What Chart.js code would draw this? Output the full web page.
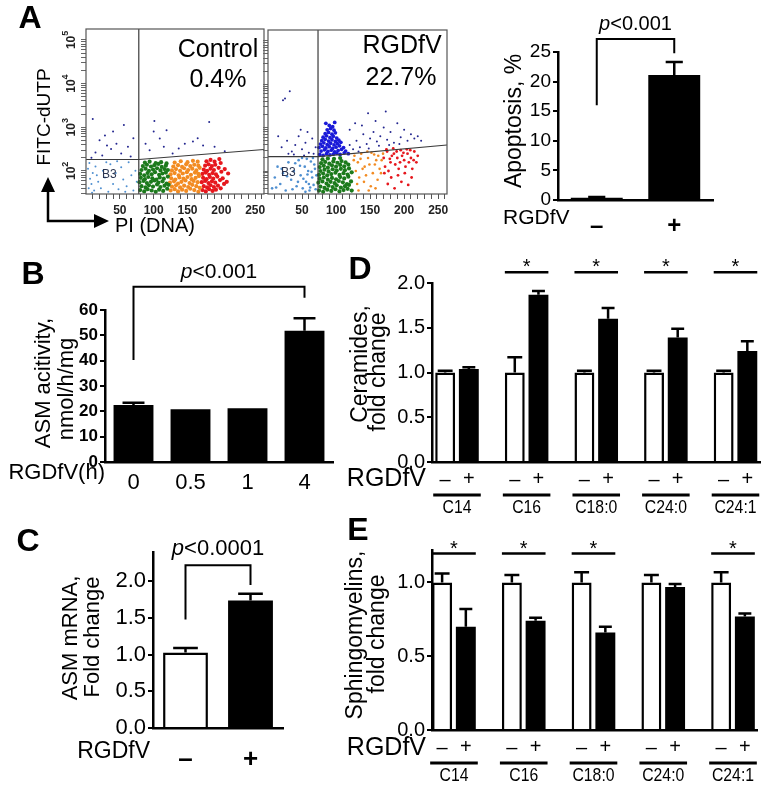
<!DOCTYPE html>
<html>
<head>
<meta charset="utf-8">
<script src="https://cdn.jsdelivr.net/npm/chart.js@4.4.1/dist/chart.umd.min.js"></script>
<style>
body { margin: 0; background: #fff; width: 764px; height: 791px; position: relative; overflow: hidden; }
canvas { position: absolute; }
</style>
</head>
<body>
<canvas id="flow1"></canvas>
<canvas id="flow2"></canvas>
<canvas id="apop"></canvas>
<canvas id="asm"></canvas>
<canvas id="mrna"></canvas>
<canvas id="cer"></canvas>
<canvas id="sm"></canvas>
<script>
// ---- panel A, flow plots: x = PI (DNA), y = log10 of FITC-dUTP ----
var ctrlGreen = [[80,1.56],[86,1.53],[91,1.58],[97,1.55],[103,1.52],[108,1.57],[114,1.54],[120,1.59],
    [82,1.65],[88,1.62],[93,1.67],[99,1.64],[105,1.69],[110,1.63],[116,1.66],[122,1.68],
    [79,1.74],[85,1.77],[90,1.72],[96,1.75],[101,1.78],[107,1.73],[113,1.76],[119,1.71],
    [81,1.84],[87,1.81],[92,1.86],[98,1.83],[104,1.80],[109,1.85],[115,1.82],[121,1.87],
    [80,1.93],[86,1.90],[91,1.95],[97,1.92],[102,1.97],[108,1.91],[113,1.94],[118,1.96],
    [82,2.02],[88,2.05],[93,2.00],[99,2.03],[105,2.06],[110,2.01],[116,2.04],[121,2.02],
    [84,2.11],[90,2.14],[96,2.10],[101,2.13],[107,2.16],[112,2.09],[118,2.12],
    [87,2.19],[94,2.21],[103,2.18],[111,2.20],[119,2.17]];
var ctrlOrange = [[125,1.55],[131,1.58],[136,1.53],[142,1.57],[148,1.54],[154,1.59],[160,1.56],[166,1.52],
    [127,1.64],[133,1.67],[139,1.62],[145,1.66],[151,1.63],[157,1.68],[163,1.65],[168,1.61],
    [124,1.73],[130,1.76],[136,1.71],[141,1.75],[147,1.78],[153,1.72],[159,1.77],[165,1.74],
    [126,1.83],[132,1.80],[138,1.85],[144,1.82],[150,1.86],[156,1.81],[162,1.84],[167,1.88],
    [125,1.92],[131,1.95],[137,1.90],[143,1.94],[149,1.97],[155,1.91],[161,1.96],[166,1.93],
    [127,2.01],[133,2.04],[139,2.00],[145,2.06],[151,2.02],[157,2.05],[163,2.01],[168,2.07],
    [129,2.10],[136,2.13],[142,2.09],[148,2.15],[154,2.11],[160,2.14],[166,2.12],
    [131,2.19],[140,2.22],[150,2.20],[158,2.23],[165,2.21]];
var ctrlRed = [[172,1.56],[177,1.53],[182,1.58],[187,1.54],[192,1.57],[199,1.60],
    [174,1.65],[179,1.62],[184,1.67],[189,1.63],[195,1.66],[204,1.70],
    [171,1.74],[176,1.77],[181,1.72],[186,1.76],[191,1.73],[198,1.79],[208,1.75],
    [173,1.84],[178,1.81],[183,1.86],[188,1.82],[194,1.87],[202,1.83],
    [172,1.93],[177,1.96],[182,1.91],[187,1.95],[192,1.92],[200,1.98],[210,1.94],
    [174,2.03],[179,2.00],[184,2.05],[189,2.02],[196,2.07],[205,2.04],
    [176,2.12],[181,2.15],[186,2.11],[191,2.14],[199,2.18],
    [178,2.22],[184,2.25],[190,2.21],[197,2.27]];
var ctrlLightBlue = [[4,1.6],[6,1.82],[3,2.05],[8,1.7],[10,1.95],[5,2.18],[12,1.55],[14,2.1],[18,1.75],[22,1.6],
    [25,2.0],[28,1.85],[33,1.52],[36,2.15],[40,1.7],[44,1.95],[48,1.58],[52,2.08],[55,1.8],[60,1.65],
    [63,2.2],[67,1.9],[70,1.55],[73,2.0],[75,1.75],[16,1.9],[30,2.2],[46,2.22],[58,1.52],[9,1.5]];
var ctrlDarkBlue = [[10,3.19],[56,3.05],[28,2.81],[31,2.58],[20,2.7],[14,2.42],[24,2.35],[37,2.5],[45,2.62],[52,2.4],
    [62,2.55],[70,2.75],[8,2.3],[40,2.9],[66,2.33],
    [101,3.14],[182,3.12],[100,2.9],[119,2.93],[158,2.67],[173,2.58],[137,2.51],[94,2.47],[109,2.74],[128,2.40],
    [146,2.62],[165,2.75],[88,2.62],[190,2.55],[205,2.45],[115,2.55]];
var ctrlGate = [[0,2.26],[78,2.26],[263,2.49]];
var ctrlGateX = 78;

var rgdBlueCore = [[76,2.38],[81,2.36],[86,2.40],[91,2.37],[96,2.39],[101,2.41],[106,2.38],[112,2.42],[118,2.40],
    [78,2.46],[83,2.49],[88,2.45],[93,2.48],[98,2.44],[103,2.47],[108,2.50],[114,2.46],
    [75,2.54],[80,2.57],[85,2.53],[90,2.56],[95,2.52],[100,2.55],[105,2.58],[111,2.54],
    [77,2.62],[82,2.65],[87,2.61],[92,2.64],[97,2.60],[102,2.63],[107,2.66],
    [79,2.70],[84,2.73],[89,2.69],[94,2.72],[99,2.68],[104,2.71],
    [81,2.78],[86,2.81],[91,2.77],[96,2.80],[101,2.76],
    [84,2.86],[89,2.89],[94,2.85],[99,2.88],
    [87,2.95],[92,2.98],[97,2.94],[90,3.05],[95,3.02],[85,3.1],[98,3.12]];
var rgdBlueSparse = [[22,3.63],[32,3.84],[25,3.67],[20,2.55],[28,2.7],[35,2.45],[40,2.6],[45,2.8],[50,2.5],[55,2.65],
    [60,2.42],[65,2.75],[70,2.55],[48,2.95],[38,2.38],[58,2.9],[30,2.4],[67,2.4],[15,2.8],[53,2.36],
    [147,3.33],[173,3.37],[125,2.5],[130,2.7],[135,2.55],[140,2.85],[145,2.62],[150,2.75],[155,2.9],[160,2.68],
    [165,2.8],[170,3.0],[175,2.72],[180,2.9],[185,2.65],[190,3.1],[195,2.78],[200,2.95],[205,2.7],[210,2.85],
    [215,2.75],[120,2.95],[128,3.1],[138,3.05],[158,3.15],[120,2.6],[133,2.45],[148,2.52],[163,2.58],[178,2.6],
    [193,2.62],[220,2.8],[225,2.7]];
var rgdGreen = [[75,1.55],[81,1.52],[87,1.57],[93,1.54],[99,1.58],[105,1.53],[111,1.56],[117,1.59],[123,1.55],
    [77,1.64],[83,1.61],[89,1.66],[95,1.63],[101,1.67],[107,1.62],[113,1.65],[119,1.68],
    [74,1.73],[80,1.76],[86,1.71],[92,1.75],[98,1.72],[104,1.77],[110,1.74],[116,1.70],[122,1.76],
    [76,1.82],[82,1.85],[88,1.80],[94,1.84],[100,1.81],[106,1.86],[112,1.83],[118,1.87],
    [75,1.91],[81,1.94],[87,1.90],[93,1.93],[99,1.96],[105,1.91],[111,1.95],[117,1.92],[123,1.97],
    [77,2.00],[83,2.03],[89,1.99],[95,2.04],[101,2.01],[107,2.05],[113,2.02],[119,2.06],
    [76,2.09],[82,2.12],[88,2.08],[94,2.13],[100,2.10],[106,2.14],[112,2.11],[118,2.15],
    [78,2.18],[84,2.21],[90,2.17],[96,2.22],[102,2.19],[108,2.23],[114,2.20],
    [80,2.27],[88,2.29],[97,2.28],[106,2.30]];
var rgdLightBlue = [[6,1.6],[10,1.85],[14,2.1],[18,1.7],[22,1.95],[26,1.55],[30,2.2],[34,1.8],[38,2.0],[42,1.65],
    [45,2.25],[48,1.9],[51,1.6],[54,2.1],[56,1.75],[59,2.0],[61,1.55],[63,2.22],[65,1.85],[67,1.68],
    [69,2.05],[71,1.9],[47,2.12],[52,1.82],[57,2.28],[60,1.7],[64,1.98],[68,2.15],[44,1.75],[40,2.18],
    [36,1.58],[28,1.88],[20,2.05],[12,1.62],[62,1.62],[66,2.3],[50,2.3],[55,1.52],[70,1.58],[58,1.92]];
var rgdOrange = [[127,2.35],[132,2.2],[137,2.4],[142,2.1],[147,2.3],[152,2.42],[157,2.15],[162,2.35],[167,2.25],[129,2.0],
    [134,1.85],[139,2.05],[144,1.9],[149,2.15],[154,1.95],[159,2.25],[164,2.05],[169,2.4],[131,1.7],[141,1.75],
    [151,1.65],[161,1.8],[126,2.25],[136,2.28],[146,2.45],[156,2.38],[166,1.95],[133,1.55],[148,1.55],[158,1.6]];
var rgdRed = [[170,2.3],[175,2.45],[180,2.2],[185,2.4],[190,2.3],[195,2.48],[200,2.25],[205,2.4],[210,2.3],[215,2.45],
    [220,2.35],[172,2.1],[177,2.0],[182,2.35],[187,2.15],[192,2.05],[197,2.35],[202,2.1],[207,2.2],[212,2.05],
    [218,2.2],[174,2.5],[184,2.52],[194,2.2],[204,2.5],[214,2.25],[171,1.95],[181,1.85],[191,1.9],[201,1.95],
    [211,1.85],[179,2.28],[189,2.45],[199,2.42],[209,2.48],[176,1.7],[196,1.75],[186,1.6],[206,1.68]];
var rgdGate = [[0,2.33],[73.5,2.33],[263,2.60]];
var rgdGateX = 73.5;

var flowXTicks = [10,20,30,40,50,60,70,80,90,100,110,120,130,140,150,160,170,180,190,200,210,220,230,240,250,260];
var flowDecades = [2, 3, 4, 5];

// ---- apoptosis bars ----
var apopLabels = ['\u2013', '+'];
var apopValues = [0.4, 21.1];
var apopErr = [0.5, 23.3];

// ---- B: ASM activity ----
var asmLabels = ['0', '0.5', '1', '4'];
var asmValues = [22.5, 20.8, 21.2, 51.8];
var asmErr = [23.4, null, null, 56.7];

// ---- C: ASM mRNA ----
var mrnaLabels = ['\u2013', '+'];
var mrnaValues = [1.03, 1.74];
var mrnaErr = [1.09, 1.83];

// ---- D and E: lipid species ----
var lipidGroups = ['C14', 'C16', 'C18:0', 'C24:0', 'C24:1'];
var groupPos = [1, 2, 3, 4, 5];
var cerCtrl = [1.0, 1.0, 1.0, 1.0, 1.0];
var cerCtrlErr = [1.02, 1.17, 1.02, 1.02, 1.02];
var cerRgd = [1.04, 1.87, 1.60, 1.39, 1.24];
var cerRgdErr = [1.06, 1.91, 1.72, 1.49, 1.35];
var cerSig = [false, true, true, true, true];
var smCtrl = [1.0, 1.0, 1.0, 1.0, 1.0];
var smCtrlErr = [1.06, 1.05, 1.07, 1.05, 1.07];
var smRgd = [0.70, 0.74, 0.66, 0.97, 0.77];
var smRgdErr = [0.82, 0.76, 0.70, 0.99, 0.79];
var smSig = [true, true, true, false, true];

var FONT = 'Arial, "Liberation Sans", Helvetica, sans-serif';
Chart.defaults.font.family = FONT;
Chart.defaults.color = '#000';
Chart.defaults.animation = false;

function place(id, box)
{
    var c = document.getElementById(id);
    c.width = box[2];
    c.height = box[3];
    c.style.left = box[0] + 'px';
    c.style.top = box[1] + 'px';
    c.style.width = box[2] + 'px';
    c.style.height = box[3] + 'px';
    return c;
}

function padFor(box, area, yw, xh)
{
    return {
        left: area[0] - box[0] - yw,
        top: area[1] - box[1],
        right: box[0] + box[2] - area[2],
        bottom: box[1] + box[3] - area[3] - xh
    };
}

function text(ctx, s, x, y, font, align, rot, sx)
{
    ctx.save();
    ctx.font = font;
    ctx.fillStyle = '#000';
    ctx.textAlign = align || 'center';
    ctx.textBaseline = 'middle';
    ctx.translate(x, y);
    if (rot) ctx.rotate(rot);
    if (sx) ctx.scale(sx, 1);
    ctx.fillText(s, 0, 0);
    ctx.restore();
}

function pText(ctx, x, y, size, rest)
{
    ctx.save();
    ctx.font = 'italic ' + size + 'px ' + FONT;
    var w1 = ctx.measureText('p').width;
    ctx.font = size + 'px ' + FONT;
    var w2 = ctx.measureText(rest).width;
    var x0 = x - (w1 + w2) / 2;
    ctx.textBaseline = 'middle';
    ctx.textAlign = 'left';
    ctx.fillStyle = '#000';
    ctx.font = 'italic ' + size + 'px ' + FONT;
    ctx.fillText('p', x0, y);
    ctx.font = size + 'px ' + FONT;
    ctx.fillText(rest, x0 + w1, y);
    ctx.restore();
}

// texts placed in page coordinates: [text, x, y, size, bold, rotated, align]
function labelsPlugin(box, items)
{
    return {
        id: 'labels',
        afterDraw: function (chart) {
            var ctx = chart.ctx;
            items.forEach(function (it) {
                var font = (it[4] ? 'bold ' : '') + it[3] + 'px ' + FONT;
                text(ctx, it[0], it[1] - box[0], it[2] - box[1], font, it[6] || 'center', it[5] ? -Math.PI / 2 : 0);
            });
        }
    };
}

function errorPlugin(specs)
{
    return {
        id: 'errs',
        afterDatasetsDraw: function (chart) {
            var ctx = chart.ctx, y = chart.scales.y;
            specs.forEach(function (sp) {
                chart.getDatasetMeta(sp.ds).data.forEach(function (el, i) {
                    var top = sp.tops[i];
                    if (top == null) return;
                    var yt = y.getPixelForValue(top), half = el.width * sp.cap / 2;
                    ctx.save();
                    ctx.strokeStyle = '#000';
                    ctx.lineWidth = 2.5;
                    ctx.beginPath();
                    ctx.moveTo(el.x, el.y);
                    ctx.lineTo(el.x, yt);
                    ctx.moveTo(el.x - half, yt);
                    ctx.lineTo(el.x + half, yt);
                    ctx.stroke();
                    ctx.restore();
                });
            });
        }
    };
}

function bracketPlugin(b)
{
    return {
        id: 'bracket',
        afterDraw: function (chart) {
            var ctx = chart.ctx, y = chart.scales.y, m = chart.getDatasetMeta(0).data;
            var xa = m[b.from].x, xb = m[b.to].x;
            ctx.save();
            ctx.strokeStyle = '#000';
            ctx.lineWidth = 2;
            ctx.beginPath();
            ctx.moveTo(xa, y.getPixelForValue(b.legA));
            ctx.lineTo(xa, y.getPixelForValue(b.top));
            ctx.lineTo(xb, y.getPixelForValue(b.top));
            ctx.lineTo(xb, y.getPixelForValue(b.legB));
            ctx.stroke();
            ctx.restore();
            pText(ctx, (xa + xb) / 2, y.getPixelForValue(b.textAt), b.size, b.text);
        }
    };
}

function yAxis(min, max, step, yw, font, keepMax, fmt)
{
    return {
        min: min, max: max,
        ticks: { stepSize: step, font: font, padding: 2, callback: fmt || function (v) { return v; } },
        grid: { drawOnChartArea: false, tickLength: 5, lineWidth: 2, color: '#000' },
        border: { width: 2.5, color: '#000' },
        afterBuildTicks: function (s) {
            s.ticks = s.ticks.filter(function (t) { return t.value <= keepMax + 1e-9; });
        },
        afterFit: function (s) { s.width = yw; s.paddingTop = 0; s.paddingBottom = 0; }
    };
}

// ---------- flow plots ----------
function flowYTicks(s)
{
    var t = [];
    for (var n = 1; n <= 5; n++)
        for (var k = 1; k <= 9; k++)
        {
            var v = n + Math.log10(k);
            if (v >= s.min && v <= s.max) t.push({ value: v });
        }
    s.ticks = t;
}

function flowChart(id, box, area, clusters, gate, gateX, extra)
{
    var yw = 6, xh = 26;
    var datasets = [
        { type: 'line', data: gate.map(function (p) { return { x: p[0], y: p[1] }; }),
          borderColor: '#3a3a3a', borderWidth: 1.2, pointRadius: 0, fill: false },
        { type: 'line', data: [{ x: gateX, y: 1.47 }, { x: gateX, y: 5.25 }],
          borderColor: '#3a3a3a', borderWidth: 1.2, pointRadius: 0, fill: false }
    ];
    clusters.forEach(function (cl) {
        datasets.push({ type: 'scatter', data: cl.pts.map(function (p) { return { x: p[0], y: p[1] }; }),
            pointRadius: cl.r, backgroundColor: cl.color, borderWidth: 0 });
    });
    return new Chart(place(id, box), {
        type: 'scatter',
        data: { datasets: datasets },
        options: {
            responsive: false, events: [],
            layout: { padding: padFor(box, area, yw, xh) },
            plugins: { legend: { display: false }, tooltip: { enabled: false } },
            scales: {
                x: {
                    type: 'linear', min: 0, max: 263,
                    afterBuildTicks: function (s) { s.ticks = flowXTicks.map(function (v) { return { value: v }; }); },
                    ticks: { autoSkip: false, maxRotation: 0, padding: 4, color: '#222',
                        font: { size: 12, weight: 'bold' },
                        callback: function (v) { return v % 50 === 0 ? String(v) : ''; } },
                    grid: { drawOnChartArea: false, tickLength: 5, color: '#555' },
                    border: { display: false },
                    afterFit: function (s) { s.height = xh; s.paddingLeft = 0; s.paddingRight = 0; }
                },
                y: {
                    type: 'linear', min: 1.47, max: 5.25,
                    afterBuildTicks: flowYTicks,
                    ticks: { display: false },
                    grid: { drawOnChartArea: false, tickLength: 5, color: '#666' },
                    border: { display: false },
                    afterFit: function (s) { s.width = yw; s.paddingTop = 0; s.paddingBottom = 0; }
                }
            }
        },
        plugins: [{
            id: 'frame',
            afterDraw: function (chart) {
                var ctx = chart.ctx, a = chart.chartArea;
                ctx.save();
                ctx.strokeStyle = '#555';
                ctx.lineWidth = 1.2;
                ctx.strokeRect(a.left, a.top, a.right - a.left, a.bottom - a.top);
                ctx.restore();
                extra(chart, ctx);
            }
        }]
    });
}

var cGreen = '#1c7a1c', cOrange = '#f28b22', cRed = '#e6171d', cNavy = '#23268f', cBlue = '#1a1ad8', cLight = '#4f8fd0';

var box1 = [0, 0, 268, 240];
flowChart('flow1', box1, [86, 29, 264, 194], [
    { pts: ctrlGreen, r: 2.1, color: cGreen },
    { pts: ctrlOrange, r: 2.1, color: cOrange },
    { pts: ctrlRed, r: 2.1, color: cRed },
    { pts: ctrlLightBlue, r: 1.0, color: cLight },
    { pts: ctrlDarkBlue, r: 1.0, color: cNavy }
], ctrlGate, ctrlGateX, function (chart, ctx) {
    var y = chart.scales.y, a = chart.chartArea;
    flowDecades.forEach(function (n) {
        var py = y.getPixelForValue(n);
        ctx.save();
        ctx.translate(a.left - 14, py);
        ctx.rotate(-Math.PI / 2);
        ctx.fillStyle = '#222';
        ctx.textBaseline = 'middle';
        ctx.textAlign = 'left';
        ctx.font = 'bold 12px ' + FONT;
        var w1 = ctx.measureText('10').width;
        ctx.font = 'bold 9px ' + FONT;
        var w2 = ctx.measureText(String(n)).width;
        var x0 = -(w1 + w2) / 2;
        ctx.font = 'bold 12px ' + FONT;
        ctx.fillText('10', x0, 0);
        ctx.font = 'bold 9px ' + FONT;
        ctx.fillText(String(n), x0 + w1, -6);
        ctx.restore();
    });
    text(ctx, 'A', 30, 19, 'bold 32px ' + FONT);
    text(ctx, 'FITC-dUTP', 45, 117, '19px ' + FONT, 'center', -Math.PI / 2);
    text(ctx, 'PI (DNA)', 115, 226, '20px ' + FONT, 'left');
    text(ctx, 'Control', 218, 50, '25px ' + FONT);
    text(ctx, '0.4%', 218, 80, '25px ' + FONT);
    ctx.save();
    ctx.fillStyle = '#2b3550';
    ctx.font = '12px ' + FONT;
    ctx.textBaseline = 'middle';
    ctx.fillText('B3', 102, 175);
    ctx.strokeStyle = '#000';
    ctx.fillStyle = '#000';
    ctx.lineWidth = 2.5;
    ctx.beginPath();
    ctx.moveTo(48, 190); ctx.lineTo(48, 221); ctx.lineTo(96, 221);
    ctx.stroke();
    ctx.beginPath();
    ctx.moveTo(48, 177); ctx.lineTo(41, 192); ctx.lineTo(55, 192); ctx.closePath();
    ctx.moveTo(109, 221); ctx.lineTo(94, 214); ctx.lineTo(94, 228); ctx.closePath();
    ctx.fill();
    ctx.restore();
});

var box2 = [262, 0, 190, 240];
flowChart('flow2', box2, [268, 30, 447, 194], [
    { pts: rgdGreen, r: 2.1, color: cGreen },
    { pts: rgdBlueCore, r: 1.9, color: cBlue },
    { pts: rgdLightBlue, r: 1.3, color: cLight },
    { pts: rgdOrange, r: 1.3, color: cOrange },
    { pts: rgdRed, r: 1.4, color: cRed },
    { pts: rgdBlueSparse, r: 1.0, color: cNavy }
], rgdGate, rgdGateX, function (chart, ctx) {
    text(ctx, 'RGDfV', 402 - box2[0], 46, '25px ' + FONT);
    text(ctx, '22.7%', 401 - box2[0], 78, '25px ' + FONT);
    ctx.save();
    ctx.fillStyle = '#2b3550';
    ctx.font = '12px ' + FONT;
    ctx.textBaseline = 'middle';
    ctx.fillText('B3', 281 - box2[0], 173);
    ctx.restore();
});

// ---------- apoptosis % ----------
var boxA = [500, 0, 264, 240];
new Chart(place('apop', boxA), {
    type: 'bar',
    data: { labels: apopLabels, datasets: [{ data: apopValues, backgroundColor: '#000', borderWidth: 0,
        barPercentage: 0.67, categoryPercentage: 1 }] },
    options: {
        responsive: false, events: [],
        layout: { padding: padFor(boxA, [558, 52, 713, 200], 32, 40) },
        plugins: { legend: { display: false }, tooltip: { enabled: false } },
        scales: {
            x: { ticks: { font: { size: 24, weight: 'bold' }, padding: 4 }, grid: { display: false },
                 border: { width: 2.5, color: '#000' },
                 afterFit: function (s) { s.height = 40; s.paddingLeft = 0; s.paddingRight = 0; } },
            y: yAxis(0, 25, 5, 32, { size: 19 }, 25)
        }
    },
    plugins: [errorPlugin([{ ds: 0, tops: apopErr, cap: 0.33 }]),
        bracketPlugin({ from: 0, to: 1, legA: 16.0, top: 27.2, legB: 24.8, textAt: 29.6, size: 20, text: '<0.001' }),
        labelsPlugin(boxA, [['Apoptosis, %', 515, 121, 23, false, true], ['RGDfV', 503, 218, 21, false, false, 'left']])]
});

// ---------- B ----------
var boxB = [0, 240, 345, 250];
new Chart(place('asm', boxB), {
    type: 'bar',
    data: { labels: asmLabels, datasets: [{ data: asmValues, backgroundColor: '#000', borderWidth: 0,
        barPercentage: 0.7, categoryPercentage: 1 }] },
    options: {
        responsive: false, events: [],
        layout: { padding: padFor(boxB, [105, 310, 333, 462], 40, 28) },
        plugins: { legend: { display: false }, tooltip: { enabled: false } },
        scales: {
            x: { ticks: { font: { size: 22 }, padding: 0 }, grid: { display: false },
                 border: { width: 2.5, color: '#000' },
                 afterFit: function (s) { s.height = 28; s.paddingLeft = 0; s.paddingRight = 0; } },
            y: yAxis(0, 60, 10, 40, { size: 17, weight: 'bold' }, 60)
        }
    },
    plugins: [errorPlugin([{ ds: 0, tops: asmErr, cap: 0.55 }]),
        bracketPlugin({ from: 0, to: 3, legA: 40.3, top: 69.2, legB: 64.8, textAt: 74.9, size: 21, text: '<0.001' }),
        labelsPlugin(boxB, [['B', 33, 275, 32, true], ['ASM acitivity,', 44, 383, 22, false, true],
            ['nmol/h/mg', 67, 389, 22, false, true], ['RGDfV(h)', 105, 473, 22, false, false, 'right']])]
});

// ---------- C ----------
var boxC = [0, 480, 300, 311];
new Chart(place('mrna', boxC), {
    type: 'bar',
    data: { labels: mrnaLabels, datasets: [{ data: mrnaValues, backgroundColor: ['#fff', '#000'],
        borderColor: '#000', borderWidth: [2.5, 0], barPercentage: 0.69, categoryPercentage: 1 }] },
    options: {
        responsive: false, events: [],
        layout: { padding: padFor(boxC, [153, 552, 283, 728], 42, 40) },
        plugins: { legend: { display: false }, tooltip: { enabled: false } },
        scales: {
            x: { ticks: { font: { size: 26, weight: 'bold' }, padding: 8 }, grid: { display: false },
                 border: { width: 2.5, color: '#000' },
                 afterFit: function (s) { s.height = 40; s.paddingLeft = 0; s.paddingRight = 0; } },
            y: yAxis(0, 2.4, 0.5, 42, { size: 22 }, 2.0, function (v) { return v.toFixed(1); })
        }
    },
    plugins: [errorPlugin([{ ds: 0, tops: mrnaErr, cap: 0.55 }]),
        bracketPlugin({ from: 0, to: 1, legA: 1.48, top: 2.22, legB: 1.95, textAt: 2.44, size: 22, text: '<0.0001' }),
        labelsPlugin(boxC, [['C', 28, 542, 32, true], ['ASM mRNA,', 71, 638, 22, false, true],
            ['Fold change', 93, 637, 22, false, true], ['RGDfV', 150, 752, 23, false, false, 'right']])]
});

// ---------- D and E ----------
function lipidChart(id, box, area, ctrl, ctrlErr, rgd, rgdErr, sig, yMax, keepMax, xMin, xMax, sigAt, starAt, titles)
{
    var yw = 42;
    function pts(vals) { return groupPos.map(function (g, i) { return { x: g, y: vals[i] }; }); }
    return new Chart(place(id, box), {
        type: 'bar',
        data: { datasets: [
            { data: pts(ctrl), backgroundColor: '#fff', borderColor: '#000', borderWidth: 2.5,
              barPercentage: 0.84, categoryPercentage: 0.68 },
            { data: pts(rgd), backgroundColor: '#000', borderWidth: 0,
              barPercentage: 0.84, categoryPercentage: 0.68 }
        ] },
        options: {
            responsive: false, events: [],
            layout: { padding: padFor(box, area, yw, 2) },
            plugins: { legend: { display: false }, tooltip: { enabled: false } },
            scales: {
                x: { type: 'linear', min: xMin, max: xMax, offset: false,
                     afterBuildTicks: function (s) { s.ticks = groupPos.map(function (v) { return { value: v }; }); },
                     ticks: { display: false }, grid: { display: false, offset: false },
                     border: { width: 2.5, color: '#000' },
                     afterFit: function (s) { s.height = 2; s.paddingLeft = 0; s.paddingRight = 0; } },
                y: yAxis(0, yMax, 0.5, yw, { size: 20 }, keepMax, function (v) { return v.toFixed(1); })
            }
        },
        plugins: [errorPlugin([{ ds: 0, tops: ctrlErr, cap: 0.75 }, { ds: 1, tops: rgdErr, cap: 0.65 }]),
            {
                id: 'groups',
                afterDraw: function (chart) {
                    var ctx = chart.ctx, a = chart.chartArea, x = chart.scales.x, y = chart.scales.y;
                    var w = chart.getDatasetMeta(0).data, b = chart.getDatasetMeta(1).data;
                    ctx.save();
                    ctx.strokeStyle = '#000';
                    groupPos.forEach(function (g, j) {
                        var l = w[j].x - w[j].width / 2, r = b[j].x + b[j].width / 2;
                        text(ctx, '\u2013', w[j].x, a.bottom + 18, '20px ' + FONT);
                        text(ctx, '+', b[j].x, a.bottom + 17, '20px ' + FONT);
                        ctx.lineWidth = 3;
                        ctx.beginPath();
                        ctx.moveTo(l - 2, a.bottom + 33);
                        ctx.lineTo(r + 2, a.bottom + 33);
                        ctx.stroke();
                        text(ctx, lipidGroups[j], x.getPixelForValue(g), a.bottom + 46, '19px ' + FONT, 'center', 0, 0.83);
                        if (sig[j])
                        {
                            var ys = y.getPixelForValue(sigAt);
                            ctx.lineWidth = 2.5;
                            ctx.beginPath();
                            ctx.moveTo(l, ys);
                            ctx.lineTo(r, ys);
                            ctx.stroke();
                            ctx.save();
                            ctx.font = '20px ' + FONT;
                            ctx.textAlign = 'center';
                            ctx.textBaseline = 'alphabetic';
                            ctx.fillStyle = '#000';
                            ctx.fillText('*', x.getPixelForValue(g), y.getPixelForValue(starAt) + 11);
                            ctx.restore();
                        }
                    });
                    ctx.restore();
                }
            },
            labelsPlugin(box, titles)]
    });
}

var boxD = [330, 240, 434, 285];
lipidChart('cer', boxD, [432, 283, 760, 462], cerCtrl, cerCtrlErr, cerRgd, cerRgdErr, cerSig,
    2.0, 2.0, 0.641, 5.352, 2.12, 2.23,
    [['D', 360, 270, 32, true], ['Ceramides,', 361, 364, 23, false, true], ['fold change', 379, 372, 23, false, true],
     ['RGDfV', 426, 479, 25, false, false, 'right']]);

var boxE = [330, 500, 434, 291];
lipidChart('sm', boxE, [432, 550, 757, 730], smCtrl, smCtrlErr, smRgd, smRgdErr, smSig,
    1.22, 1.0, 0.685, 5.344, 1.196, 1.26,
    [['E', 358, 531, 32, true], ['Sphingomyelins,', 356, 635, 23, false, true], ['fold change', 378, 634, 23, false, true],
     ['RGDfV', 426, 748, 25, false, false, 'right']]);
</script>
</body>
</html>
